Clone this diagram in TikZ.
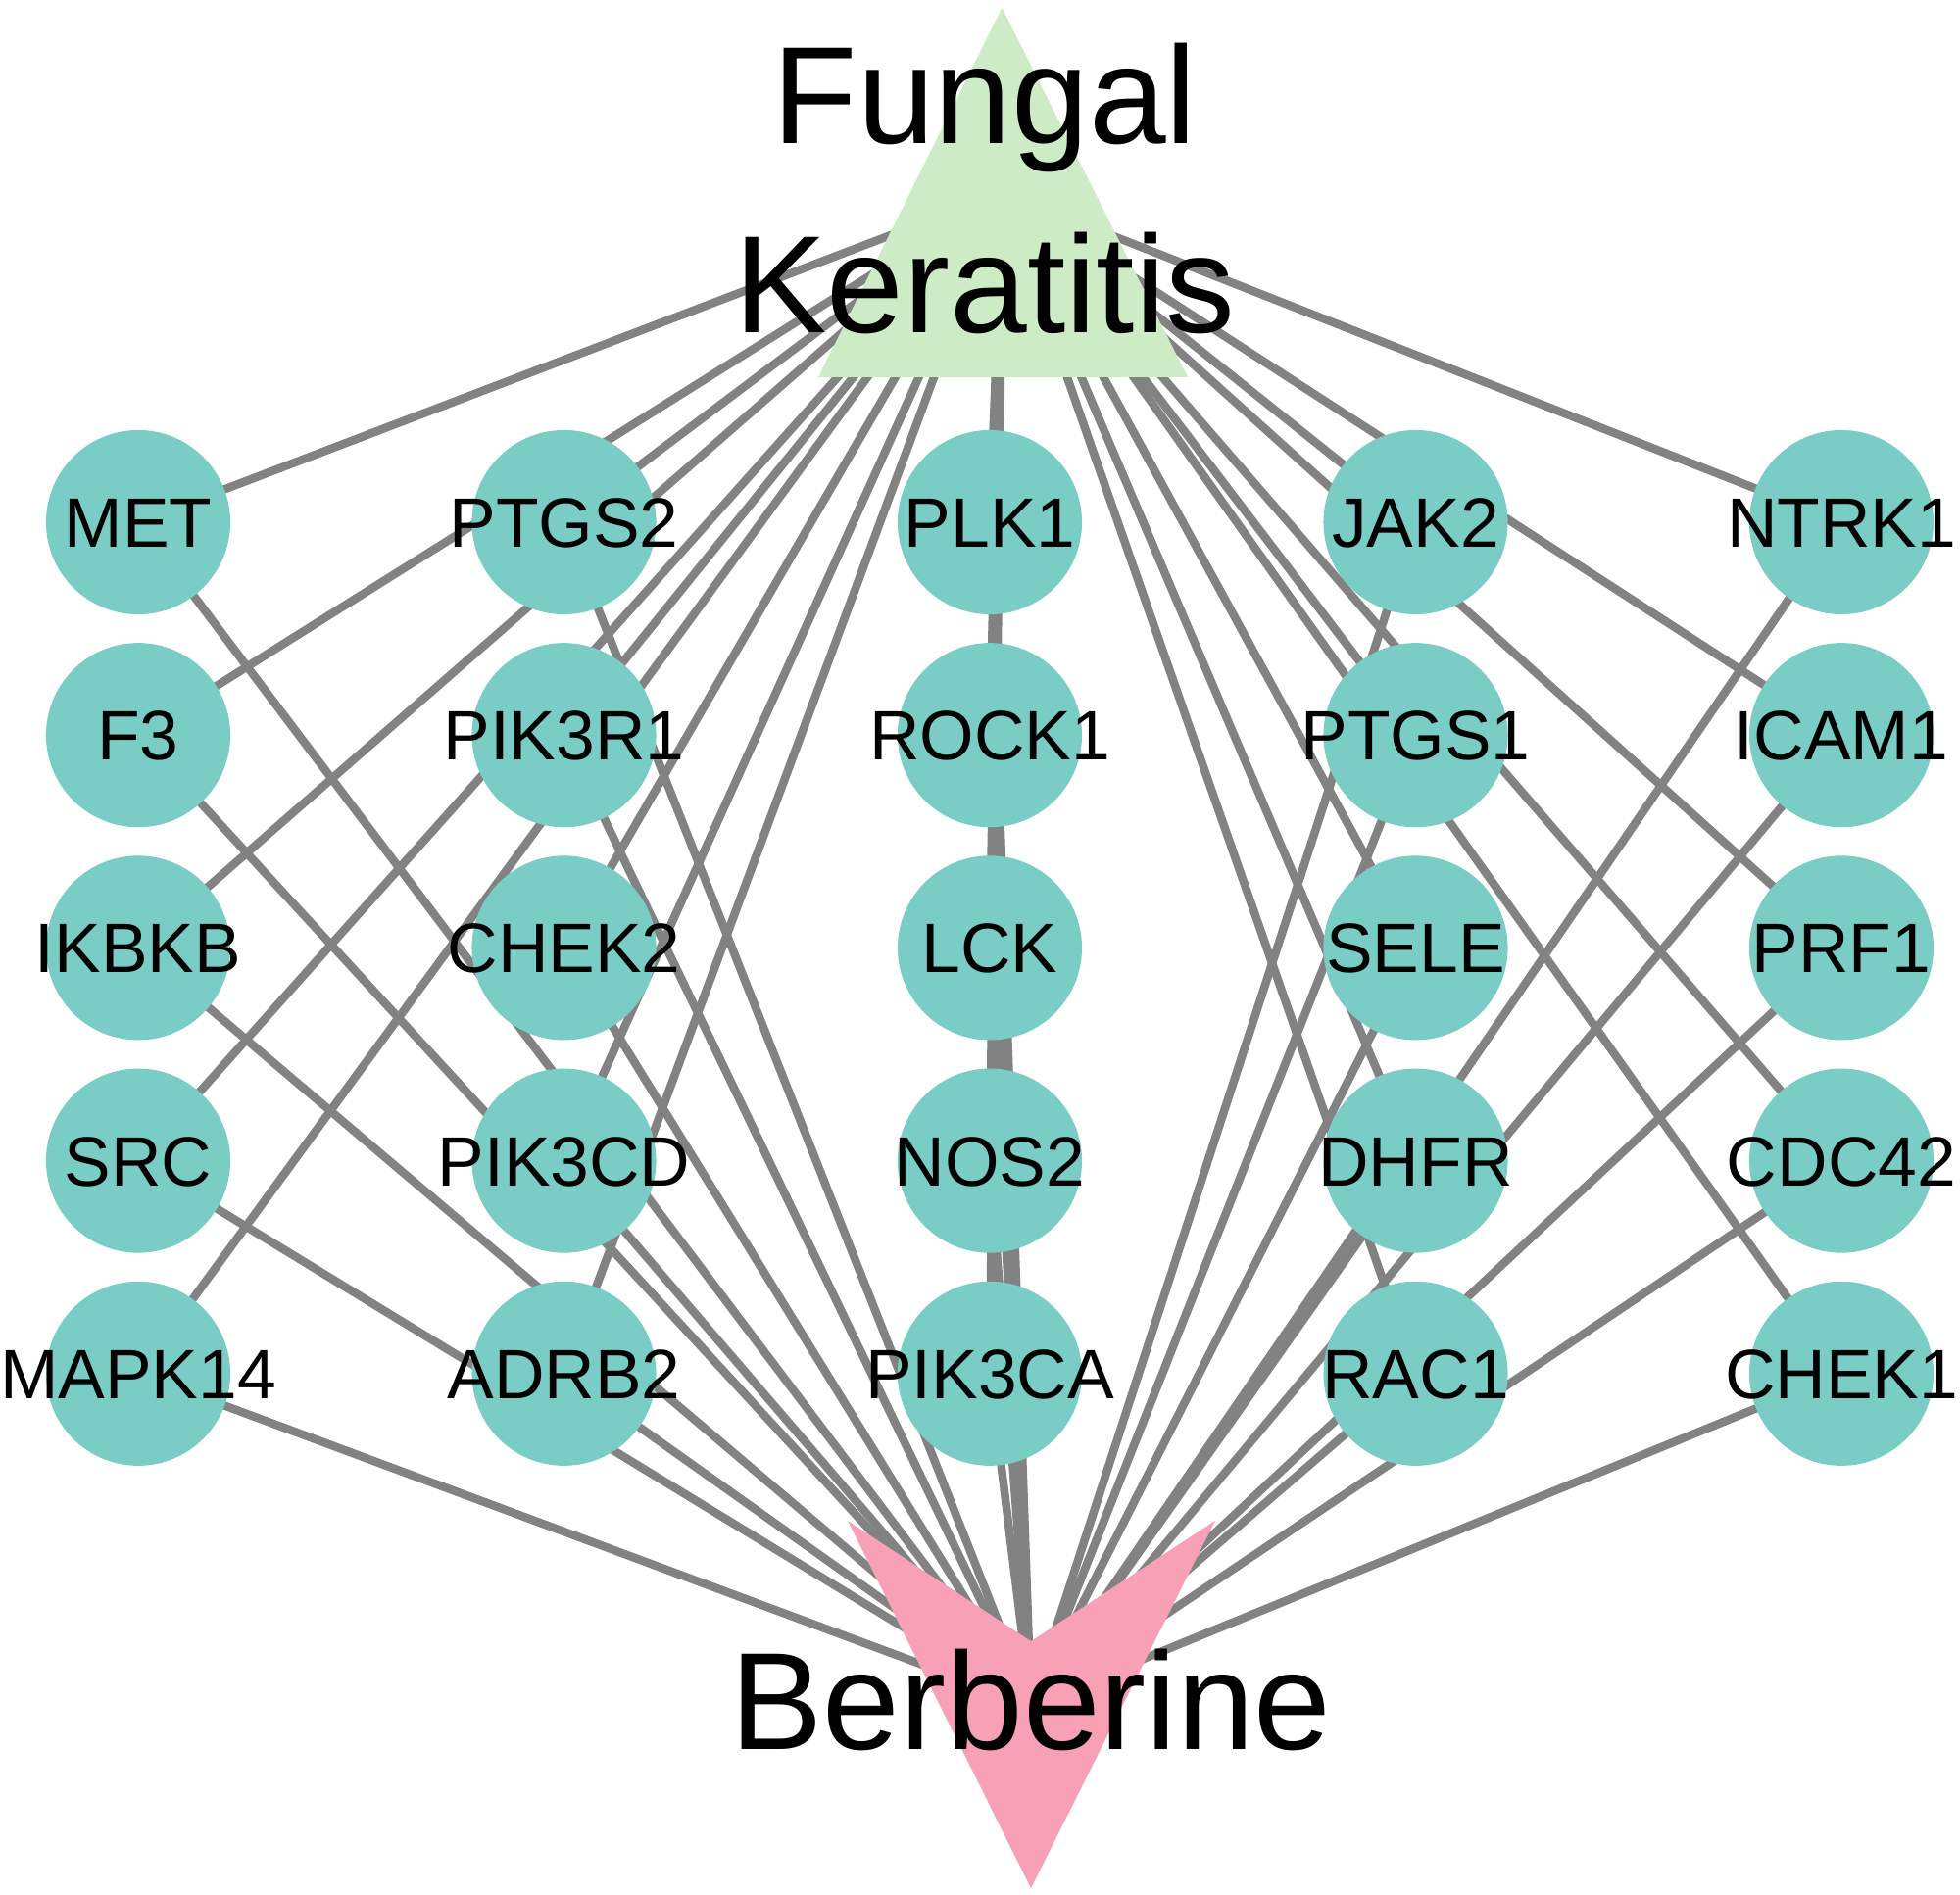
\documentclass[tikz,border=0pt]{standalone}
\usepackage{fontspec}
\setmainfont{Liberation Sans}
\usetikzlibrary{backgrounds}
\definecolor{genecol}{RGB}{122,205,197}
\definecolor{fkcol}{RGB}{205,236,198}
\definecolor{bbcol}{RGB}{248,160,181}
\definecolor{linkcol}{RGB}{130,130,130}
\begin{document}
\begin{tikzpicture}[x=0.01cm,y=-0.01cm,
  gene/.style={circle,fill=genecol,minimum size=1.88cm,inner sep=0pt},
  glabel/.style={font=\fontsize{20.3pt}{24pt}\selectfont,text height=14.5pt,text depth=0pt,inner sep=0pt,text=black},
  hlabel/.style={font=\fontsize{40.2pt}{46pt}\selectfont,inner sep=0pt,text=black},
  link/.style={draw=linkcol,line width=0.085cm}]
\useasboundingbox (0,0) rectangle (2000,1934);
% hub centres
\coordinate (FK) at (1023,196.5);
\coordinate (BB) at (1052,1740);
% gene nodes
\foreach \n/\c/\r in {MET/0/0,F3/0/1,IKBKB/0/2,SRC/0/3,MAPK14/0/4,
  PTGS2/1/0,PIK3R1/1/1,CHEK2/1/2,PIK3CD/1/3,ADRB2/1/4,
  PLK1/2/0,ROCK1/2/1,LCK/2/2,NOS2/2/3,PIK3CA/2/4,
  JAK2/3/0,PTGS1/3/1,SELE/3/2,DHFR/3/3,RAC1/3/4,
  NTRK1/4/0,ICAM1/4/1,PRF1/4/2,CDC42/4/3,CHEK1/4/4}
  \node[gene,label={[glabel]center:\n}] (\n) at ({141+434.5*\c},{533+217.2*\r}) {};
% edges
\begin{scope}[on background layer]
\foreach \n in {MET,F3,IKBKB,SRC,MAPK14,PTGS2,PIK3R1,CHEK2,PIK3CD,ADRB2,
  PLK1,ROCK1,LCK,NOS2,PIK3CA,JAK2,PTGS1,SELE,DHFR,RAC1,NTRK1,ICAM1,PRF1,CDC42,CHEK1}
  \draw[link] (FK) -- (\n.center) -- (BB);
\end{scope}
% hub shapes
\fill[fkcol] (1022.5,8) -- (1212,385) -- (835,385) -- cycle;
\fill[bbcol] (865,1552) -- (1052,1675) -- (1240,1552) -- (1052,1927) -- cycle;
% hub labels
\node[hlabel,anchor=base] (fkA) at (1005,147) {Fungal};
\node[hlabel,anchor=base] (fkB) at (1005,340) {Keratitis};
\node[hlabel,anchor=base] (bbA) at (1052,1785) {Berberine};
\end{tikzpicture}
\end{document}
